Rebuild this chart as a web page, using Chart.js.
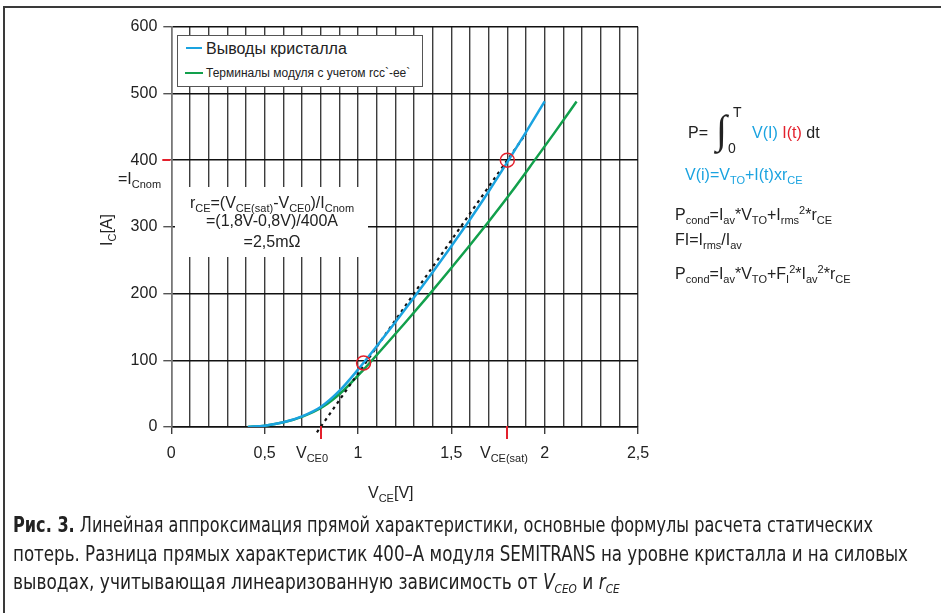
<!DOCTYPE html>
<html>
<head>
<meta charset="utf-8">
<script src="https://cdn.jsdelivr.net/npm/chart.js@4.4.0/dist/chart.umd.min.js"></script>
<style>
  html, body { margin: 0; padding: 0; background: #fff; }
  #wrap { position: relative; width: 941px; height: 613px; overflow: hidden; font-family: 'Liberation Sans', Arial, sans-serif; color: #222; }
  #chart { position: absolute; left: 0; top: 0; }
  .frame { position: absolute; left: 3px; top: 6px; width: 960px; height: 640px; border-left: 2px solid #3a3a3a; border-top: 2px solid #3a3a3a; }
  .t { position: absolute; white-space: nowrap; font-size: 16px; line-height: 16px; }
  .t sub { font-size: 11px; vertical-align: -4px; line-height: 0; }
  .t sup { font-size: 11px; vertical-align: 6px; line-height: 0; }
  .small { font-size: 12px; line-height: 12px; }
  .box { position: absolute; background: #fff; }
  .legend { border: 1px solid #555; box-sizing: border-box; }
  .lg { position: absolute; height: 2px; }
  .blue { color: #1aa3e0; }
  .red { color: #e3202c; }
  .cap { position: absolute; left: 13px; white-space: nowrap; font-family: 'Liberation Sans Narrow', 'DejaVu Sans Condensed', Roboto, sans-serif; font-size: 21px; line-height: 21px; color: #222; transform-origin: 0 0; }
  .cap b { font-weight: bold; }
  .cap sub { font-size: 13px; vertical-align: -4px; line-height: 0; }
</style>
</head>
<body>
<div id="wrap">
  <canvas id="chart" width="941" height="613"></canvas>
  <div class="frame"></div>

  <!-- legend -->
  <div class="box legend" style="left:177px;top:35px;width:246px;height:52px;"></div>
  <div class="lg" style="left:186px;top:47px;width:16px;background:#1aa3e0;"></div>
  <div class="t" style="left:206px;top:41px;">Выводы кристалла</div>
  <div class="lg" style="left:185px;top:72px;width:18px;background:#12a04c;"></div>
  <div class="t small" style="left:206px;top:67px;">Терминалы модуля с учетом rcc`-ee`</div>

  <!-- formula box -->
  <div class="box" style="left:175px;top:187px;width:193px;height:70px;"></div>
  <div class="t" style="left:175px;width:194px;text-align:center;top:195px;">r<sub>CE</sub>=(V<sub>CE(sat)</sub>-V<sub>CE0</sub>)/I<sub>Cnom</sub></div>
  <div class="t" style="left:175px;width:194px;text-align:center;top:213px;">=(1,8V-0,8V)/400A</div>
  <div class="t" style="left:175px;width:194px;text-align:center;top:234px;">=2,5mΩ</div>

  <!-- axis annotations -->
  <div class="t" style="left:118px;top:171px;">=I<sub>Cnom</sub></div>
  <div class="t" style="left:77px;top:222px;width:60px;text-align:center;transform:rotate(-90deg);">I<sub>C</sub>[A]</div>
  <div class="t" style="left:296px;top:445px;">V<sub>CE0</sub></div>
  <div class="t" style="left:480px;top:445px;">V<sub>CE(sat)</sub></div>
  <div class="t" style="left:368px;top:485px;">V<sub>CE</sub>[V]</div>

  <!-- formulas on the right -->
  <div class="t" style="left:688px;top:125px;">P=</div>
  <div class="t" style="left:716px;top:110px;font-family:'Liberation Serif',serif;font-size:40px;line-height:40px;">∫</div>
  <div class="t" style="left:733px;top:105px;font-size:14px;line-height:14px;">T</div>
  <div class="t" style="left:728px;top:141px;font-size:14px;line-height:14px;">0</div>
  <div class="t" style="left:752px;top:125px;"><span class="blue">V(I)</span> <span class="red">I(t)</span> dt</div>
  <div class="t blue" style="left:685px;top:167px;">V(i)=V<sub>TO</sub>+I(t)xr<sub>CE</sub></div>
  <div class="t" style="left:675px;top:207px;">P<sub>cond</sub>=I<sub>av</sub>*V<sub>TO</sub>+I<sub>rms</sub><sup>2</sup>*r<sub>CE</sub></div>
  <div class="t" style="left:675px;top:232px;">FI=I<sub>rms</sub>/I<sub>av</sub></div>
  <div class="t" style="left:675px;top:266px;">P<sub>cond</sub>=I<sub>av</sub>*V<sub>TO</sub>+F<sub>I</sub><sup>2</sup>*I<sub>av</sub><sup>2</sup>*r<sub>CE</sub></div>

  <!-- caption -->
  <div class="cap" data-w="860" style="top:515px;"><b>Рис. 3.</b> Линейная аппроксимация прямой характеристики, основные формулы расчета статических</div>
  <div class="cap" data-w="895" style="top:544px;">потерь. Разница прямых характеристик 400–А модуля SEMITRANS на уровне кристалла и на силовых</div>
  <div class="cap" data-w="607" style="top:572px;">выводах, учитывающая линеаризованную зависимость от <i>V<sub>CEO</sub></i> и <i>r<sub>CE</sub></i></div>
</div>

<script>
// tick labels
const xTickLabels = ['0', '0,5', '1', '1,5', '2', '2,5'];

// chip terminals (blue)
const crystalV = [0.41, 0.5, 0.6, 0.7, 0.8, 0.9, 1.0, 1.1, 1.2, 1.3, 1.4, 1.5, 1.6, 1.7, 1.8, 1.9, 2.0];
const crystalI = [0, 2, 7, 16, 30, 54, 86, 121, 157, 194, 232, 271, 311, 353, 397, 442, 488];

// module terminals incl. rcc'-ee' (green)
const terminalV = [0.41, 0.501, 0.602, 0.706, 0.81, 0.919, 1.03, 1.142, 1.255, 1.368, 1.481, 1.595, 1.709, 1.824, 1.939, 2.055, 2.171];
const terminalI = [0, 2, 7, 16, 30, 54, 86, 121, 157, 194, 232, 271, 311, 353, 397, 442, 488];

// linear approximation (dashed)
const approxV = [0.78, 1.9];
const approxI = [-8, 440];

// red circles
const markV = [1.03, 1.8];
const markI = [96, 400];

// red ticks on the axes
const vce0 = 0.8;
const vceSat = 1.8;
const iCnom = 400;

const toPoints = (xs, ys) => xs.map((v, i) => ({ x: v, y: ys[i] }));

const redTicks = {
    id: 'redTicks',
    afterDatasetsDraw(chart) {
        const { ctx, scales: { x, y } } = chart;
        const y0 = y.getPixelForValue(0);
        ctx.save();
        ctx.strokeStyle = '#e3202c';
        ctx.lineWidth = 2;
        [vce0, vceSat].forEach(v => {
            const px = Math.round(x.getPixelForValue(v));
            ctx.beginPath();
            ctx.moveTo(px, y0 - 1);
            ctx.lineTo(px, y0 + 12);
            ctx.stroke();
        });
        const py = Math.round(y.getPixelForValue(iCnom));
        ctx.beginPath();
        ctx.moveTo(x.left - 9, py);
        ctx.lineTo(x.left - 1, py);
        ctx.stroke();
        ctx.restore();
    }
};

const isMajor = v => Math.round(v * 10) % 5 === 0;

new Chart(document.getElementById('chart').getContext('2d'), {
    type: 'line',
    data: {
        datasets: [
            {
                type: 'scatter',
                data: toPoints(markV, markI),
                borderColor: '#e3202c',
                backgroundColor: 'rgba(0,0,0,0)',
                borderWidth: 1.5,
                pointRadius: 7,
                showLine: false,
                order: 0
            },
            {
                label: 'Выводы кристалла',
                data: toPoints(crystalV, crystalI),
                borderColor: '#1aa3e0',
                borderWidth: 2.5,
                pointRadius: 0,
                cubicInterpolationMode: 'monotone',
                order: 1
            },
            {
                data: toPoints(approxV, approxI),
                borderColor: '#111',
                borderWidth: 2.2,
                borderDash: [3, 4],
                pointRadius: 0,
                clip: false,
                order: 2
            },
            {
                label: 'Терминалы модуля с учетом rcc`-ee`',
                data: toPoints(terminalV, terminalI),
                borderColor: '#12a04c',
                borderWidth: 2.5,
                pointRadius: 0,
                cubicInterpolationMode: 'monotone',
                order: 3
            }
        ]
    },
    options: {
        responsive: false,
        animation: false,
        layout: { padding: { top: 26.7, right: 303, bottom: 146, left: 0 } },
        plugins: { legend: { display: false }, tooltip: { enabled: false } },
        scales: {
            x: {
                type: 'linear',
                min: 0,
                max: 2.5,
                afterFit(s) { s.height = 40; },
                ticks: {
                    stepSize: 0.1,
                    autoSkip: false,
                    maxRotation: 0,
                    padding: 10,
                    color: '#222',
                    font: { family: "'Liberation Sans', Arial", size: 16 },
                    callback: v => isMajor(v) ? xTickLabels[Math.round(v * 2)] : ''
                },
                grid: {
                    color: '#3c3c3c',
                    lineWidth: 1.4,
                    tickLength: 7,
                    tickColor: c => (c.tick && isMajor(c.tick.value)) ? '#3c3c3c' : 'rgba(0,0,0,0)'
                },
                border: { color: '#111', width: 1.4 }
            },
            y: {
                min: 0,
                max: 600,
                afterFit(s) { s.width = 171.3; },
                ticks: {
                    stepSize: 100,
                    padding: 6,
                    color: '#222',
                    font: { family: "'Liberation Sans', Arial", size: 16 }
                },
                grid: {
                    color: '#111',
                    lineWidth: 1.4,
                    tickLength: 8,
                    tickColor: '#555'
                },
                border: { color: '#777', width: 1.5 }
            }
        }
    },
    plugins: [redTicks]
});

// squeeze the caption lines to their width in the picture
document.querySelectorAll('.cap').forEach(el => {
    const w = el.scrollWidth;
    const target = parseFloat(el.dataset.w);
    el.style.transform = 'scaleX(' + (target / w) + ')';
});
</script>
</body>
</html>
